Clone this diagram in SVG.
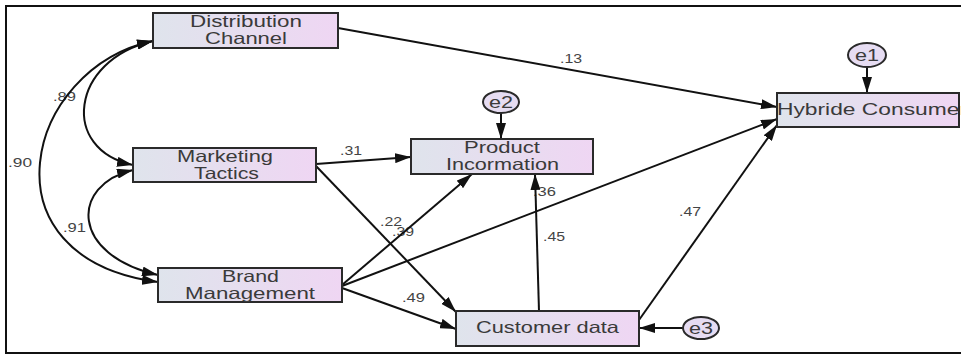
<svg xmlns="http://www.w3.org/2000/svg" width="961" height="355" viewBox="0 0 961 355">
  <defs>
    <linearGradient id="boxFill" x1="0" y1="0" x2="1" y2="0">
      <stop offset="0" stop-color="#dfe4ec"/>
      <stop offset="1" stop-color="#efd6f3"/>
    </linearGradient>
    <marker id="arrow" viewBox="0 0 16 10" refX="16" refY="5" markerWidth="16" markerHeight="10" markerUnits="userSpaceOnUse" orient="auto-start-reverse">
      <path d="M0,0 L16,5 L0,10 Z" fill="#111"/>
    </marker>
    <style>
      .box { fill: url(#boxFill); stroke: #2a2a2a; stroke-width: 2; }
      .err { fill: #e6dcf2; stroke: #2a2a2a; stroke-width: 2; }
      .label { font-family: "Liberation Sans", Arial, sans-serif; font-size: 16.5px; fill: #3a3a3a; }
      .errlabel { font-family: "Liberation Sans", Arial, sans-serif; font-size: 16.5px; fill: #3a3a3a; }
      .coef { font-family: "Liberation Sans", Arial, sans-serif; font-size: 12px; fill: #444; }
      .path { fill: none; stroke: #111; stroke-width: 2; marker-end: url(#arrow); }
      .cov { fill: none; stroke: #111; stroke-width: 2; marker-start: url(#arrow); marker-end: url(#arrow); }
      .frame { fill: none; stroke: #111; stroke-width: 2; }
    </style>
  </defs>

  <rect width="961" height="355" fill="#fff"/>
  <rect class="frame" x="6" y="6" width="970" height="347"/>

  <!-- path coefficients -->
  <g id="coefficients">
    <text class="coef" x="560" y="63" textLength="22" lengthAdjust="spacingAndGlyphs">.13</text>
    <text class="coef" x="340" y="155" textLength="22" lengthAdjust="spacingAndGlyphs">.31</text>
    <text class="coef" x="53" y="101" textLength="23" lengthAdjust="spacingAndGlyphs">.89</text>
    <text class="coef" x="8" y="167" textLength="24" lengthAdjust="spacingAndGlyphs">.90</text>
    <text class="coef" x="63" y="232" textLength="23" lengthAdjust="spacingAndGlyphs">.91</text>
    <text class="coef" x="380" y="226" textLength="22" lengthAdjust="spacingAndGlyphs">.22</text>
    <text class="coef" x="392" y="236" textLength="22" lengthAdjust="spacingAndGlyphs">.39</text>
    <text class="coef" x="402" y="302" textLength="23" lengthAdjust="spacingAndGlyphs">.49</text>
    <text class="coef" x="533" y="196" textLength="23" lengthAdjust="spacingAndGlyphs">.36</text>
    <text class="coef" x="543" y="241" textLength="22" lengthAdjust="spacingAndGlyphs">.45</text>
    <text class="coef" x="679" y="216" textLength="22" lengthAdjust="spacingAndGlyphs">.47</text>
  </g>

  <!-- regression paths and covariances -->
  <g id="connectors">
    <line class="path" x1="338" y1="28" x2="777" y2="107"/>
    <line class="path" x1="316" y1="164" x2="411" y2="157"/>
    <line class="path" x1="316" y1="166" x2="456" y2="312"/>
    <line class="path" x1="342" y1="285" x2="472" y2="174"/>
    <line class="path" x1="342" y1="286" x2="777" y2="119"/>
    <line class="path" x1="342" y1="288" x2="456" y2="329"/>
    <line class="path" x1="539" y1="311" x2="535" y2="174"/>
    <line class="path" x1="639" y1="320" x2="777" y2="125"/>
    <line class="path" x1="867" y1="67" x2="867" y2="93"/>
    <line class="path" x1="501" y1="113" x2="501" y2="139"/>
    <line class="path" x1="683" y1="328" x2="639" y2="328"/>
    <path class="cov" d="M153,41 C70,60 60,150 133,165"/>
    <path class="cov" d="M153,41 C25,68 -22,258 158,282"/>
    <path class="cov" d="M133,170 C70,185 70,255 158,275"/>
  </g>

  <g id="distribution-channel">
    <rect class="box" x="153" y="13" width="185" height="35"/>
    <text class="label" x="190" y="27" textLength="112" lengthAdjust="spacingAndGlyphs">Distribution</text>
    <text class="label" x="205" y="44" textLength="82" lengthAdjust="spacingAndGlyphs">Channel</text>
  </g>

  <g id="marketing-tactics">
    <rect class="box" x="133" y="148" width="183" height="34"/>
    <text class="label" x="177" y="162" textLength="96" lengthAdjust="spacingAndGlyphs">Marketing</text>
    <text class="label" x="194" y="179" textLength="65" lengthAdjust="spacingAndGlyphs">Tactics</text>
  </g>

  <g id="brand-management">
    <rect class="box" x="158" y="268" width="184" height="34"/>
    <text class="label" x="222" y="282" textLength="57" lengthAdjust="spacingAndGlyphs">Brand</text>
    <text class="label" x="185" y="299" textLength="130" lengthAdjust="spacingAndGlyphs">Management</text>
  </g>

  <g id="product-information">
    <rect class="box" x="411" y="139" width="182" height="35"/>
    <text class="label" x="464" y="153" textLength="76" lengthAdjust="spacingAndGlyphs">Product</text>
    <text class="label" x="446" y="170" textLength="113" lengthAdjust="spacingAndGlyphs">Incormation</text>
  </g>

  <g id="customer-data">
    <rect class="box" x="456" y="311" width="183" height="35"/>
    <text class="label" x="476" y="333" textLength="143" lengthAdjust="spacingAndGlyphs">Customer data</text>
  </g>

  <g id="hybride-consumer">
    <rect class="box" x="777" y="93" width="182" height="34"/>
    <text class="label" x="777" y="115" textLength="190" lengthAdjust="spacingAndGlyphs">Hybride Consumer</text>
  </g>

  <g id="e1">
    <ellipse class="err" cx="867" cy="55" rx="19" ry="12"/>
    <text class="errlabel" x="855" y="61" textLength="24" lengthAdjust="spacingAndGlyphs">e1</text>
  </g>

  <g id="e2">
    <ellipse class="err" cx="501" cy="102" rx="18" ry="11"/>
    <text class="errlabel" x="489" y="108" textLength="24" lengthAdjust="spacingAndGlyphs">e2</text>
  </g>

  <g id="e3">
    <ellipse class="err" cx="701" cy="328" rx="18" ry="11"/>
    <text class="errlabel" x="689" y="334" textLength="24" lengthAdjust="spacingAndGlyphs">e3</text>
  </g>
</svg>
